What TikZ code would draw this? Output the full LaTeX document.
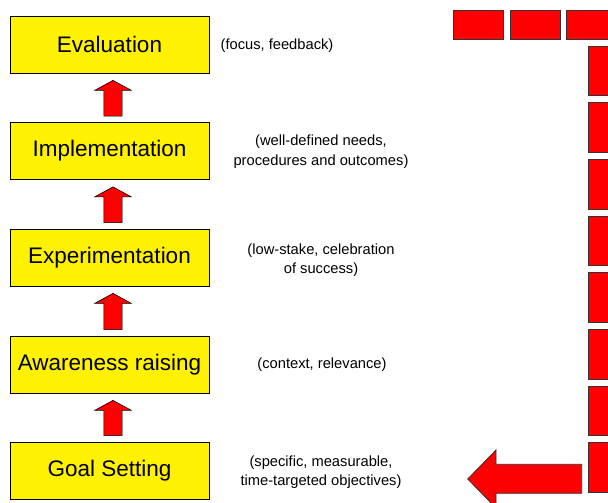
\documentclass[tikz,border=0pt]{standalone}
\usepackage{fontspec}
\setmainfont{Liberation Sans}
\usetikzlibrary{calc}

\tikzset{
  etape/.style={draw=black, line width=0.8pt, fill=yellow, minimum width=199pt,
    minimum height=57pt, inner sep=0pt, font=\fontsize{22.5}{27}\selectfont},
  note/.style={align=center, inner sep=0pt, font=\fontsize{14.7}{19.5}\selectfont},
  blocfleche/.style={draw=black, line width=0.6pt, fill=red, line join=miter},
  bloc/.style={draw=black!80, line width=0.8pt, fill=red}
}

% fleche pleine vers le haut, de la boite #1 a la boite #2
\newcommand{\flechehaut}[2]{%
  \draw[blocfleche] let \p1=($(#1.north)+(3.5,0)$), \p2=($(#2.south)+(3.5,0)$) in
    (\x1-9.15pt,\y1+6pt) -- (\x1+9.15pt,\y1+6pt) -- (\x1+9.15pt,\y2-17pt)
    -- (\x1+18.35pt,\y2-17pt) -- (\x1,\y2-7pt) -- (\x1-18.35pt,\y2-17pt)
    -- (\x1-9.15pt,\y2-17pt) -- cycle;}

\begin{document}
\begin{tikzpicture}[x=1pt,y=-1pt]

% Cadre
\useasboundingbox (0,0) rectangle (608,503);
\clip (0,0) rectangle (608,503);

% Etapes
\node[etape] (eval)  at (109.5,44.5)  {Evaluation};
\node[etape] (impl)  at (109.5,151)   {Implementation};
\node[etape] (exper) at (109.5,257.5) {Experimentation};
\node[etape] (aware) at (109.5,364.5) {Awareness raising};
\node[etape] (goal)  at (109.5,470.5) {Goal Setting};

% Fleches entre les etapes
\flechehaut{goal}{aware}
\flechehaut{aware}{exper}
\flechehaut{exper}{impl}
\flechehaut{impl}{eval}

% Commentaires
\node[note] (neval)  at (277,46)    {(focus, feedback)};
\node[note] (nimpl)  at (321,151.7) {(well-defined needs,\\procedures and outcomes)};
\node[note] (nexper) at (321,260)   {(low-stake, celebration\\of success)};
\node[note] (naware) at (322,365)   {(context, relevance)};
\node[note] (ngoal)  at (321,472)   {(specific, measurable,\\time-targeted objectives)};

% Retour en pointilles
\foreach \i in {0,1,2}
  \draw[bloc] (453.3+56.7*\i,10) rectangle ++(50.4,29);
\foreach \i in {0,...,7}
  \draw[bloc] (588.3,46+56.67*\i) rectangle ++(29,49.7);

% Grosse fleche vers Goal Setting
\draw[bloc, line join=miter] (581.7,464.3) -- (496,464.3) -- (496,450) -- (467.7,479)
  -- (496,508) -- (496,493.3) -- (581.7,493.3) -- cycle;

\end{tikzpicture}
\end{document}
